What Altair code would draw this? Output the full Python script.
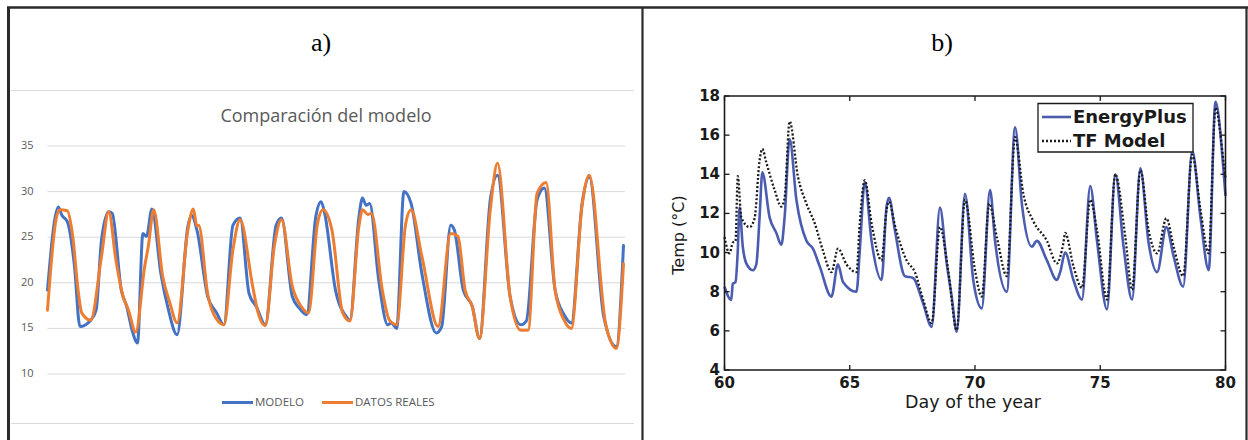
import altair as alt
import pandas as pd

# ---------------- a) Comparación del modelo (hourly) ----------------
hora_modelo = [0, 6, 8, 11, 15, 18, 24, 27, 30, 34, 36,
               41, 44, 47, 50, 53, 55, 58, 63, 67, 72,
               78, 80, 83, 89, 94, 98, 103, 107, 112, 116, 121,
               127, 130, 136, 140, 144, 149, 152, 154, 160, 166, 168,
               173, 175, 177, 179, 184, 189, 191, 194, 198, 202, 208,
               216, 219, 224, 226, 231, 236, 240, 246, 250, 257, 263,
               266, 272, 276, 282, 287, 291, 297, 301, 309, 316, 320]
temp_modelo = [19.2, 28.3, 27.4, 26.7, 21.8, 15.2, 15.9, 17.0, 24.7, 27.8, 27.6,
               19.2, 17.4, 14.8, 13.4, 25.4, 25.1, 28.1, 21.0, 17.2, 14.3,
               26.2, 27.4, 25.8, 18.5, 16.7, 15.4, 26.3, 27.1, 18.8, 17.4, 15.4,
               26.3, 27.1, 18.5, 17.2, 16.5, 27.2, 28.9, 27.6, 19.2, 16.3, 15.9,
               27.2, 29.3, 28.5, 28.7, 20.3, 15.4, 15.6, 15.0, 30.0, 28.7, 21.0,
               14.5, 15.2, 26.3, 25.8, 19.2, 17.4, 13.9, 29.1, 31.8, 18.5, 15.4,
               15.8, 29.1, 30.4, 19.2, 16.5, 15.6, 28.7, 31.6, 16.3, 13.0, 24.1]

hora_reales = [0, 5, 7, 11, 14, 17, 19, 24, 30, 34, 38,
               42, 45, 49, 54, 56, 59, 64, 68, 72,
               78, 81, 83, 84, 89, 92, 98, 103, 107, 114, 117, 121,
               126, 130, 136, 141, 145, 150, 153, 158, 164, 168,
               173, 175, 178, 180, 186, 190, 194, 199, 202, 208,
               217, 224, 228, 232, 236, 240, 246, 250, 257, 263,
               267, 272, 277, 282, 287, 291, 297, 301, 310, 316, 320]
temp_reales = [17.0, 27.2, 28.0, 27.9, 25.1, 19.2, 16.7, 15.9, 22.9, 27.8, 22.5,
               18.5, 17.0, 14.6, 21.8, 24.0, 28.0, 20.7, 17.8, 15.6,
               25.8, 28.1, 26.2, 26.3, 18.8, 16.7, 15.4, 23.6, 26.9, 19.6, 16.7, 15.3,
               24.0, 26.9, 19.6, 17.4, 16.7, 26.5, 28.0, 25.8, 16.7, 15.8,
               26.2, 28.0, 27.5, 27.6, 19.2, 15.9, 15.4, 26.5, 28.0, 22.9,
               15.2, 25.4, 25.1, 19.2, 17.4, 13.9, 28.0, 33.1, 18.5, 14.8,
               14.8, 29.8, 31.0, 19.2, 15.9, 15.0, 28.5, 31.8, 15.6, 12.8, 22.1]

ticks_a = [10, 15, 20, 25, 30, 35]

# ---------------- b) EnergyPlus vs TF Model ----------------
dia_energyplus = [60.0, 60.27, 60.33, 60.44, 60.53, 60.6, 60.73, 60.87, 61.13, 61.27,
                  61.4, 61.51, 61.8, 62.07, 62.27, 62.4, 62.6, 62.87, 63.27, 63.53,
                  63.8, 64.27, 64.53, 64.73, 65.27, 65.4, 65.6, 65.87, 66.27, 66.47,
                  66.57, 66.8, 67.2, 67.53, 67.93, 68.27, 68.6, 68.87, 69.07, 69.27,
                  69.6, 69.93, 70.27, 70.6, 70.8, 71.27, 71.6, 71.87, 72.27, 72.47,
                  72.87, 73.27, 73.4, 73.6, 73.93, 74.27, 74.6, 74.87, 75.27, 75.6,
                  75.93, 76.27, 76.6, 76.93, 77.27, 77.64, 77.93, 78.31, 78.67, 79.0,
                  79.33, 79.6, 79.93, 80.0]
temp_energyplus = [8.26, 7.58, 8.4, 8.5, 10.1, 12.3, 10.3, 9.45, 9.1, 9.4,
                   11.8, 14.1, 11.8, 11.0, 10.4, 11.8, 15.8, 12.7, 10.6, 10.2,
                   9.3, 7.75, 9.4, 8.5, 8.0, 10.1, 13.6, 10.6, 8.6, 12.35,
                   12.8, 11.15, 8.8, 8.7, 7.4, 6.2, 12.3, 9.45, 7.75, 5.96,
                   13.0, 8.6, 7.15, 13.2, 10.6, 8.0, 16.4, 12.5, 10.3, 10.6,
                   9.6, 8.6, 9.0, 10.0, 8.6, 7.6, 13.4, 10.6, 7.1, 14.0,
                   10.3, 7.6, 14.3, 10.5, 9.0, 11.3, 9.8, 8.26, 15.2, 11.8,
                   9.1, 17.7, 14.05, 12.9]

dia_tf = [60.0, 60.2, 60.33, 60.44, 60.53, 60.67, 61.0, 61.2, 61.4, 61.51,
          61.67, 62.0, 62.27, 62.4, 62.6, 62.93, 63.27, 63.6, 63.93, 64.27,
          64.53, 64.87, 65.27, 65.4, 65.6, 65.87, 66.27, 66.47, 66.57, 66.8,
          67.27, 67.6, 67.93, 68.27, 68.6, 68.93, 69.27, 69.6, 70.0, 70.27,
          70.57, 70.87, 71.27, 71.6, 71.93, 72.33, 72.87, 73.27, 73.53, 73.6,
          73.93, 74.27, 74.6, 74.87, 75.27, 75.6, 76.0, 76.27, 76.6, 76.93,
          77.27, 77.64, 77.93, 78.31, 78.67, 79.0, 79.33, 79.6, 79.93, 80.0]
temp_tf = [10.8, 9.96, 10.5, 10.6, 13.9, 11.8, 11.3, 11.75, 14.7, 15.3,
           14.6, 13.2, 12.35, 12.8, 16.7, 13.9, 12.5, 11.5, 10.1, 9.0,
           10.2, 9.4, 9.0, 11.5, 13.7, 11.5, 9.6, 12.2, 12.6, 11.4,
           9.6, 9.0, 7.6, 6.4, 11.3, 9.1, 6.04, 12.7, 9.1, 7.75,
           12.5, 10.8, 8.8, 15.9, 13.0, 11.6, 10.6, 9.45, 10.5, 11.0,
           9.3, 8.2, 12.7, 11.15, 7.6, 14.0, 10.8, 8.1, 14.2, 11.15,
           9.96, 11.75, 10.3, 8.8, 15.0, 12.2, 9.96, 17.4, 14.55, 13.8]

ticks_dia = [60, 65, 70, 75, 80]
ticks_temp = [4, 6, 8, 10, 12, 14, 16, 18]

BLUE_A = "#4472C4"
ORANGE_A = "#ED7D31"
GRID_A = "#d9d9d9"
TEXT_A = "#595959"
BLUE_B = "#4a5cb0"
INK = "#1a1a1a"


def sc(domain, rng):
    return alt.Scale(domain=domain, range=rng, nice=False, zero=False)


XA = sc([0, 320], [47.5, 623.5])
YA = sc([10, 35], [374, 146])
XB = sc([60, 80], [724.5, 1225.5])
YB = sc([4, 18], [370, 96])

one = alt.Data(values=[{}])


def label(text, x, y, **kw):
    return alt.Chart(one).mark_text(text=text, **kw).encode(
        x=alt.value(x), y=alt.value(y))


def hline(x0, x1, y, color, width):
    return alt.Chart(one).mark_rule(color=color, strokeWidth=width).encode(
        x=alt.value(x0), x2=alt.value(x1), y=alt.value(y))


def vline(x, y0, y1, color, width):
    return alt.Chart(one).mark_rule(color=color, strokeWidth=width).encode(
        x=alt.value(x), y=alt.value(y0), y2=alt.value(y1))


layers = []

# table frame
layers += [
    hline(7, 1248, 7.5, "#2a2a2a", 2.5),
    vline(8.5, 7, 440, "#2a2a2a", 3),
    vline(642.5, 7, 440, "#2a2a2a", 2.2),
    vline(1246.5, 7, 440, "#2a2a2a", 2.2),
    label("a)", 321, 43, font="Liberation Serif", fontSize=26, color="#000000",
          align="center", baseline="middle"),
    label("b)", 942, 43, font="Liberation Serif", fontSize=26, color="#000000",
          align="center", baseline="middle"),
]

# ---- panel a ----
df_grid_a = pd.DataFrame({"v": ticks_a})
df_modelo = pd.DataFrame({"hora": hora_modelo, "temp": temp_modelo})
df_reales = pd.DataFrame({"hora": hora_reales, "temp": temp_reales})

layers += [
    hline(11, 634, 90.5, GRID_A, 1),
    hline(11, 634, 423.5, GRID_A, 1),
    label("Comparación del modelo", 326, 116.5, font="Open Sans", fontSize=18,
          color=TEXT_A, align="center", baseline="middle"),
    alt.Chart(df_grid_a).mark_rule(color=GRID_A, strokeWidth=1).encode(
        y=alt.Y("v:Q", scale=YA, axis=None),
        x=alt.value(47.5), x2=alt.value(625)),
    alt.Chart(df_grid_a).mark_text(align="right", baseline="middle",
                                   font="Open Sans", fontSize=11,
                                   color=TEXT_A).encode(
        y=alt.Y("v:Q", scale=YA, axis=None),
        x=alt.value(33.5), text="v:Q"),
    alt.Chart(df_modelo).mark_line(color=BLUE_A, strokeWidth=3,
                                   interpolate="monotone",
                                   strokeJoin="round", strokeCap="round").encode(
        x=alt.X("hora:Q", scale=XA, axis=None),
        y=alt.Y("temp:Q", scale=YA, axis=None)),
    alt.Chart(df_reales).mark_line(color=ORANGE_A, strokeWidth=3,
                                   interpolate="monotone",
                                   strokeJoin="round", strokeCap="round").encode(
        x=alt.X("hora:Q", scale=XA, axis=None),
        y=alt.Y("temp:Q", scale=YA, axis=None)),
    hline(222, 253, 402.5, BLUE_A, 3),
    label("MODELO", 255, 402.5, font="Open Sans", fontSize=11.5, color=TEXT_A,
          align="left", baseline="middle"),
    hline(322, 353, 402.5, ORANGE_A, 3),
    label("DATOS REALES", 355, 402.5, font="Open Sans", fontSize=11.5,
          color=TEXT_A, align="left", baseline="middle"),
]

# ---- panel b ----
df_ep = pd.DataFrame({"dia": dia_energyplus, "temp": temp_energyplus})
df_tf = pd.DataFrame({"dia": dia_tf, "temp": temp_tf})
df_box = pd.DataFrame({"x0": [60], "x1": [80], "y0": [4], "y1": [18]})
df_xt_bot = pd.DataFrame({"d": ticks_dia, "a": 4.0, "b": 4.25})
df_xt_top = pd.DataFrame({"d": ticks_dia, "a": 18.0, "b": 17.75})
df_yt_left = pd.DataFrame({"t": ticks_temp, "a": 60.0, "b": 60.2})
df_yt_right = pd.DataFrame({"t": ticks_temp, "a": 80.0, "b": 79.8})

xb = lambda f: alt.X(f, scale=XB, axis=None)
yb = lambda f: alt.Y(f, scale=YB, axis=None)

layers += [
    alt.Chart(df_ep).mark_line(color=BLUE_B, strokeWidth=2.6,
                               interpolate="monotone",
                               strokeJoin="round").encode(
        x=xb("dia:Q"), y=yb("temp:Q")),
    alt.Chart(df_tf).mark_line(color=INK, strokeWidth=2.3,
                               interpolate="monotone",
                               strokeDash=[2, 2]).encode(
        x=xb("dia:Q"), y=yb("temp:Q")),
    alt.Chart(df_box).mark_rect(filled=False, color=INK, strokeWidth=1.6).encode(
        x=xb("x0:Q"), x2="x1:Q", y=yb("y0:Q"), y2="y1:Q"),
    alt.Chart(df_xt_bot).mark_rule(color=INK, strokeWidth=1.3).encode(
        x=xb("d:Q"), y=yb("a:Q"), y2="b:Q"),
    alt.Chart(df_xt_top).mark_rule(color=INK, strokeWidth=1.3).encode(
        x=xb("d:Q"), y=yb("a:Q"), y2="b:Q"),
    alt.Chart(df_yt_left).mark_rule(color=INK, strokeWidth=1.3).encode(
        y=yb("t:Q"), x=xb("a:Q"), x2="b:Q"),
    alt.Chart(df_yt_right).mark_rule(color=INK, strokeWidth=1.3).encode(
        y=yb("t:Q"), x=xb("a:Q"), x2="b:Q"),
    alt.Chart(pd.DataFrame({"d": ticks_dia})).mark_text(
        font="DejaVu Sans", fontWeight="bold", fontSize=15, color=INK,
        align="center", baseline="middle").encode(
        x=xb("d:Q"), y=alt.value(382.5), text="d:Q"),
    alt.Chart(pd.DataFrame({"t": ticks_temp})).mark_text(
        font="DejaVu Sans", fontWeight="bold", fontSize=15, color=INK,
        align="right", baseline="middle").encode(
        y=yb("t:Q"), x=alt.value(720), text="t:Q"),
    label("Day of the year", 973, 403, font="DejaVu Sans", fontSize=17.5,
          color=INK, align="center", baseline="middle"),
    label("Temp (°C)", 679, 235, font="DejaVu Sans", fontSize=16, color=INK,
          align="center", baseline="middle", angle=270),
    # legend box
    alt.Chart(one).mark_rect(fill="#ffffff", stroke=INK, strokeWidth=1.3).encode(
        x=alt.value(1038), x2=alt.value(1193), y=alt.value(103.5),
        y2=alt.value(152)),
    hline(1042, 1071, 117, BLUE_B, 2.6),
    alt.Chart(one).mark_rule(color=INK, strokeWidth=2.3, strokeDash=[2, 2]).encode(
        x=alt.value(1042), x2=alt.value(1071), y=alt.value(141)),
    label("EnergyPlus", 1073, 117.5, font="DejaVu Sans", fontWeight="bold",
          fontSize=18, color=INK, align="left", baseline="middle"),
    label("TF Model", 1073, 141.5, font="DejaVu Sans", fontWeight="bold",
          fontSize=18, color=INK, align="left", baseline="middle"),
]

chart = alt.layer(*layers).resolve_scale(
    x="independent", y="independent"
).properties(
    width=1248, height=440, padding=0, background="#ffffff",
    autosize=alt.AutoSizeParams(type="none"),
).configure_view(stroke="transparent")

chart.save("out.html", embed_options={"renderer": "svg", "actions": False})
